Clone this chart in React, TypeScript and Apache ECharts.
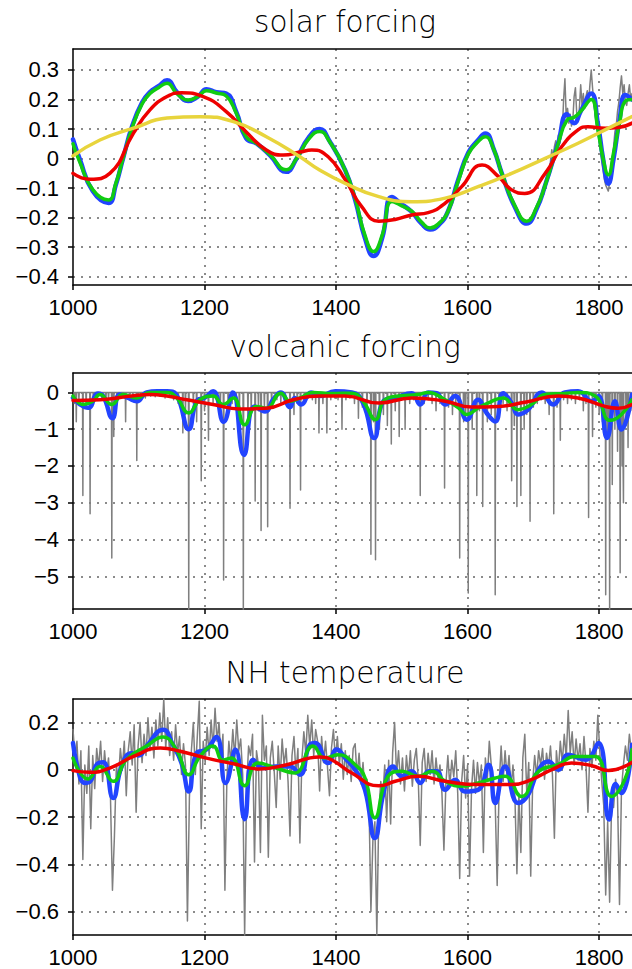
import React, { useEffect, useRef } from "react";
import * as echarts from "echarts";

const X_MIN = 1000;
const X_MAX = 1850;
const X_STEP = 200;

const panelTitles = ["solar forcing", "volcanic forcing", "NH temperature"];

// ---------------- solar forcing ----------------
const solarSmoothYears = [
  1000, 1010, 1030, 1054, 1065, 1076, 1090, 1105, 1117, 1130,
  1143, 1158, 1175, 1190, 1203, 1218, 1233, 1248, 1263, 1280,
  1300, 1324, 1340, 1358, 1375, 1390, 1414, 1429, 1444, 1457,
  1470, 1485, 1500, 1515, 1530, 1543, 1556, 1570, 1586, 1601,
  1615, 1627, 1640, 1652, 1672, 1690, 1705, 1718, 1738, 1751,
  1762, 1772, 1788, 1798, 1806, 1814, 1822, 1831, 1840, 1850,
];
const solarBlue = [
  0.065, 0.0, -0.11, -0.15, -0.09, 0.0, 0.11, 0.19, 0.225, 0.245,
  0.265, 0.225, 0.195, 0.21, 0.235, 0.225, 0.22, 0.16, 0.07, 0.05,
  0.01, -0.045, 0.0, 0.07, 0.1, 0.06, -0.04, -0.14, -0.27, -0.33,
  -0.27, -0.13, -0.155, -0.18, -0.22, -0.24, -0.225, -0.18, -0.07, 0.02,
  0.06, 0.085, 0.03, -0.05, -0.165, -0.22, -0.17, -0.09, 0.055, 0.15,
  0.12, 0.16, 0.22, 0.12, 0.0, -0.085, 0.0, 0.13, 0.215, 0.2,
];
const solarGreen = [
  0.05, -0.01, -0.105, -0.14, -0.085, 0.0, 0.105, 0.185, 0.22, 0.24,
  0.255, 0.22, 0.198, 0.21, 0.23, 0.222, 0.212, 0.155, 0.075, 0.05,
  0.012, -0.038, 0.0, 0.065, 0.092, 0.058, -0.04, -0.135, -0.26, -0.315,
  -0.26, -0.145, -0.16, -0.178, -0.215, -0.235, -0.22, -0.18, -0.075, 0.015,
  0.055, 0.074, 0.03, -0.05, -0.16, -0.212, -0.165, -0.09, 0.052, 0.13,
  0.14, 0.16, 0.2, 0.1, 0.0, -0.055, 0.02, 0.12, 0.195, 0.2,
];
const solarRedYears = [
  1000, 1026, 1056, 1092, 1117, 1143, 1165, 1198, 1233, 1263,
  1294, 1320, 1345, 1363, 1388, 1414, 1439, 1465, 1490, 1515,
  1540, 1566, 1591, 1622, 1647, 1667, 1687, 1718, 1743, 1768,
  1783, 1809, 1829, 1850,
];
const solarRed = [
  -0.05, -0.07, -0.05, 0.086, 0.165, 0.21, 0.223, 0.21, 0.159, 0.091,
  0.029, 0.012, 0.022, 0.029, 0.006, -0.072, -0.163, -0.212, -0.206, -0.191,
  -0.183, -0.151, -0.095, -0.022, -0.061, -0.106, -0.118, -0.05, 0.04, 0.097,
  0.108, 0.103, 0.105, 0.12,
];
const solarYellowYears = [
  1000, 1041, 1092, 1143, 1193, 1244, 1294, 1345, 1375, 1414,
  1465, 1515, 1566, 1616, 1667, 1718, 1768, 1819, 1850,
];
const solarYellow = [
  0.009, 0.063, 0.103, 0.137, 0.142, 0.125, 0.074, 0.006, -0.039, -0.084,
  -0.129, -0.146, -0.134, -0.095, -0.05, 0.001, 0.052, 0.108, 0.142,
];
const solarRawStart = 1716;
const solarRawStep = 2;
const solarRaw = [
  -0.12, -0.09, -0.08, -0.04, -0.05, -0.01, 0.03, 0.0, 0.04, 0.06,
  0.03, 0.08, 0.05, 0.12, 0.09, 0.2, 0.27, 0.14, 0.17, 0.12,
  0.15, 0.11, 0.13, 0.21, 0.24, 0.15, 0.13, 0.17, 0.25, 0.18,
  0.22, 0.17, 0.21, 0.23, 0.19, 0.25, 0.3, 0.24, 0.19, 0.15,
  0.12, 0.08, 0.07, 0.03, -0.01, -0.04, -0.07, -0.09, -0.1, -0.11,
  -0.08, -0.06, -0.01, 0.04, 0.09, 0.11, 0.16, 0.19, 0.24, 0.28,
  0.22, 0.25, 0.19, 0.18, 0.22, 0.25, 0.2, 0.22,
];

// ---------------- volcanic forcing ----------------
const volcanicEvents: [number, number][] = [
  [1002, -0.3], [1005, -0.8], [1009, -0.2], [1015, -2.8], [1020, -0.4], [1026, -3.3],
  [1031, -0.2], [1037, -0.15], [1044, -0.2], [1050, -0.3], [1054, -0.2], [1059, -4.5],
  [1062, -1.2], [1067, -0.3], [1072, -0.15], [1080, -0.8], [1086, -0.2], [1091, -0.15],
  [1097, -1.85], [1103, -0.1], [1110, -0.15], [1118, -0.1], [1125, -0.12], [1132, -0.1],
  [1140, -0.15], [1147, -0.12], [1153, -0.2], [1160, -0.3], [1167, -1.1], [1171, -0.6],
  [1176, -6.0], [1183, -0.3], [1188, -0.8], [1195, -2.4], [1200, -0.5], [1206, -1.3],
  [1213, -0.3], [1218, -0.2], [1224, -0.4], [1229, -5.1], [1236, -0.5], [1242, -0.3],
  [1248, -0.2], [1253, -0.6], [1259, -6.0], [1266, -0.8], [1271, -0.6], [1277, -2.95],
  [1282, -0.5], [1286, -3.75], [1291, -0.4], [1296, -3.65], [1302, -0.3], [1310, -0.2],
  [1316, -0.3], [1322, -0.2], [1330, -3.15], [1336, -0.6], [1341, -0.3], [1346, -2.65],
  [1352, -0.2], [1358, -0.15], [1364, -0.2], [1369, -0.3], [1374, -1.1], [1380, -0.3],
  [1386, -1.1], [1392, -0.2], [1398, -0.15], [1403, -0.2], [1409, -1.0], [1415, -0.2],
  [1421, -0.15], [1428, -0.3], [1434, -0.7], [1440, -0.4], [1447, -0.6], [1453, -4.4],
  [1457, -0.8], [1460, -4.55], [1466, -1.0], [1472, -0.6], [1478, -0.9], [1484, -1.4],
  [1490, -0.5], [1496, -1.2], [1505, -1.0], [1512, -0.3], [1518, -0.2], [1528, -2.8],
  [1534, -0.3], [1540, -0.2], [1546, -0.3], [1552, -0.5], [1558, -0.3], [1565, -2.6],
  [1571, -0.4], [1577, -0.6], [1582, -0.3], [1588, -4.5], [1594, -0.8], [1597, -0.6],
  [1601, -5.45], [1607, -1.0], [1614, -2.8], [1618, -0.5], [1623, -3.1], [1630, -0.8],
  [1636, -0.6], [1642, -5.5], [1648, -0.4], [1654, -0.3], [1660, -0.5], [1667, -2.4],
  [1671, -0.9], [1675, -3.1], [1681, -2.8], [1686, -1.0], [1690, -0.6], [1695, -3.5],
  [1700, -0.4], [1706, -0.3], [1712, -0.2], [1718, -0.3], [1724, -0.6], [1731, -3.3],
  [1736, -0.4], [1741, -1.3], [1746, -0.2], [1752, -0.3], [1758, -0.2], [1764, -0.3],
  [1770, -0.2], [1776, -0.5], [1780, -0.3], [1784, -3.4], [1790, -1.2], [1795, -0.4],
  [1800, -0.6], [1805, -0.8], [1810, -5.5], [1813, -1.2], [1816, -6.0], [1820, -2.5],
  [1824, -1.0], [1828, -1.6], [1832, -4.9], [1835, -2.0], [1837, -3.0], [1841, -0.9],
  [1844, -1.5], [1848, -0.5],
];
const volcanicBlue: [number, number][] = [
  [1000, -0.15], [1011, -0.33], [1023, -0.42], [1038, -0.03], [1046, -0.1], [1060, -0.7],
  [1071, -0.06], [1084, -0.15], [1097, -0.24], [1112, 0.0], [1128, 0.03], [1143, 0.03],
  [1157, -0.06], [1176, -1.0], [1188, -0.24], [1200, -0.15], [1213, 0.03], [1229, -0.8],
  [1243, 0.0], [1260, -1.7], [1276, -0.38], [1292, -0.52], [1304, -0.2], [1316, 0.0],
  [1330, -0.4], [1337, -0.15], [1347, -0.33], [1362, 0.0], [1375, -0.1], [1399, 0.03],
  [1424, 0.0], [1441, -0.29], [1458, -1.24], [1472, -0.24], [1490, -0.15], [1515, -0.02],
  [1528, -0.33], [1540, 0.0], [1553, -0.02], [1566, -0.33], [1581, -0.1], [1599, -0.74],
  [1616, -0.2], [1629, -0.56], [1642, -0.79], [1654, -0.02], [1667, -0.29], [1677, -0.6],
  [1692, -0.47], [1713, 0.0], [1730, -0.33], [1748, 0.0], [1768, 0.03], [1789, -0.24],
  [1799, -0.1], [1812, -1.24], [1824, -0.24], [1834, -1.01], [1850, -0.06],
];
const volcanicGreen: [number, number][] = [
  [1000, -0.1], [1016, -0.33], [1030, -0.24], [1041, -0.06], [1059, -0.33], [1076, -0.06],
  [1097, -0.15], [1117, 0.0], [1143, 0.0], [1158, -0.15], [1176, -0.56], [1193, -0.2],
  [1213, -0.1], [1228, -0.33], [1244, -0.15], [1261, -0.88], [1279, -0.38], [1294, -0.43],
  [1316, -0.02], [1330, -0.24], [1345, -0.15], [1365, 0.0], [1393, -0.03], [1424, -0.02],
  [1441, -0.24], [1460, -0.74], [1474, -0.2], [1495, -0.1], [1525, -0.06], [1540, 0.0],
  [1566, -0.2], [1586, -0.42], [1599, -0.6], [1616, -0.42], [1631, -0.29], [1654, -0.15],
  [1677, -0.47], [1697, -0.33], [1718, -0.06], [1748, -0.03], [1768, 0.0], [1794, -0.1],
  [1817, -0.76], [1834, -0.6], [1850, -0.2],
];
const volcanicRed: [number, number][] = [
  [1000, -0.22], [1041, -0.2], [1092, -0.09], [1117, -0.06], [1143, -0.1], [1173, -0.2],
  [1213, -0.33], [1254, -0.45], [1294, -0.43], [1335, -0.2], [1375, -0.1], [1414, -0.1],
  [1465, -0.29], [1515, -0.15], [1566, -0.24], [1606, -0.4], [1647, -0.38], [1687, -0.27],
  [1738, -0.1], [1768, -0.15], [1809, -0.38], [1829, -0.43], [1850, -0.33],
];

// ---------------- NH temperature ----------------
const nhRawStart = 1000;
const nhRawStep = 3;
const nhRaw = [
  0.17, 0.05, 0.12, -0.06, 0.08, -0.38, 0.02, -0.10, 0.10, -0.25,
  0.06, -0.08, 0.09, 0.01, 0.12, -0.05, 0.08, -0.02, 0.05, -0.12,
  -0.51, -0.28, 0.02, -0.05, 0.09, 0.01, 0.12, -0.11, 0.08, 0.16,
  0.02, 0.19, -0.18, 0.10, 0.20, 0.03, 0.15, 0.06, 0.22, 0.08,
  0.18, 0.05, 0.21, 0.10, 0.24, 0.12, 0.30, 0.09, 0.22, 0.06,
  0.16, 0.04, 0.19, 0.07, 0.14, -0.02, 0.11, 0.02, -0.64, -0.12,
  0.08, 0.20, -0.02, 0.14, 0.29, -0.25, 0.12, 0.03, 0.18, 0.06,
  0.21, 0.09, 0.26, 0.12, 0.20, 0.04, 0.15, -0.51, -0.04, 0.12,
  0.03, 0.17, 0.05, 0.21, 0.08, 0.13, -0.02, -0.70, -0.08, 0.10,
  0.06, 0.15, -0.39, 0.08, 0.02, -0.35, 0.23, 0.04, 0.10, -0.37,
  0.05, 0.12, -0.01, -0.16, 0.10, -0.04, 0.13, 0.02, 0.09, -0.05,
  -0.28, 0.06, 0.14, -0.02, 0.09, -0.31, 0.04, 0.16, 0.07, 0.23,
  0.10, 0.21, 0.06, 0.17, 0.12, -0.09, 0.14, 0.03, 0.12, 0.01,
  -0.11, 0.09, 0.17, 0.04, 0.14, 0.02, 0.11, -0.04, 0.08, -0.02,
  0.06, -0.05, 0.09, 0.11, -0.03, 0.07, -0.06, 0.03, -0.10, -0.04,
  -0.13, -0.60, -0.30, -0.22, -0.70, -0.18, -0.05, -0.12, 0.02, -0.22,
  0.04, -0.23, 0.07, 0.20, -0.02, 0.08, -0.06, 0.05, -0.09, 0.06,
  -0.03, 0.08, -0.07, 0.04, 0.09, -0.04, -0.32, 0.03, 0.09, -0.05,
  0.07, -0.02, 0.08, -0.06, 0.05, -0.04, 0.02, -0.10, -0.34, -0.06,
  0.06, -0.07, 0.04, -0.03, 0.08, -0.10, -0.46, -0.05, 0.06, -0.12,
  0.02, -0.45, -0.08, 0.04, -0.10, 0.03, -0.06, 0.02, -0.35, 0.05,
  -0.04, 0.12, 0.02, -0.09, -0.14, -0.49, -0.06, 0.10, -0.05, 0.08,
  -0.03, 0.06, -0.08, 0.02, -0.12, -0.44, -0.10, -0.35, 0.05, 0.15,
  -0.10, 0.03, -0.45, -0.05, 0.06, -0.03, 0.08, 0.02, 0.09, -0.04,
  0.07, 0.01, 0.10, -0.02, -0.29, 0.08, -0.01, 0.12, 0.03, 0.15,
  0.05, 0.25, 0.07, 0.16, 0.02, 0.13, 0.04, 0.11, 0.00, 0.14,
  0.02, -0.18, 0.09, 0.01, 0.12, 0.04, 0.23, 0.08, -0.05, -0.15,
  -0.53, -0.22, -0.56, -0.14, -0.16, -0.04, -0.12, -0.57, -0.08, 0.02,
  0.10, 0.04, 0.15, 0.08,
];
const nhBlue: [number, number][] = [
  [1000, 0.113], [1011, -0.035], [1018, -0.056], [1026, -0.05], [1036, 0.021], [1046, 0.031],
  [1061, -0.12], [1074, 0.014], [1089, 0.07], [1100, 0.06], [1112, 0.1], [1137, 0.169],
  [1152, 0.105], [1165, 0.028], [1176, -0.092], [1188, 0.07], [1203, 0.085], [1218, 0.138],
  [1232, -0.056], [1247, 0.085], [1261, -0.209], [1274, 0.042], [1289, 0.007], [1309, 0.014],
  [1330, 0.014], [1345, -0.021], [1360, 0.106], [1368, 0.113], [1388, 0.028], [1401, 0.085],
  [1414, 0.049], [1429, 0.0], [1444, -0.085], [1459, -0.289], [1472, -0.099], [1487, 0.014],
  [1500, -0.028], [1515, -0.007], [1528, -0.056], [1541, -0.007], [1553, -0.007], [1566, -0.085],
  [1581, -0.042], [1596, -0.092], [1616, -0.085], [1632, 0.021], [1642, -0.141], [1657, 0.014],
  [1677, -0.141], [1692, -0.106], [1708, 0.0], [1723, 0.035], [1738, 0.0], [1753, 0.063],
  [1779, 0.042], [1799, 0.113], [1815, -0.211], [1825, -0.06], [1834, -0.099], [1850, 0.106],
];
const nhGreen: [number, number][] = [
  [1000, 0.049], [1023, -0.039], [1041, 0.014], [1061, -0.049], [1081, 0.042], [1112, 0.1],
  [1137, 0.138], [1157, 0.085], [1176, -0.021], [1193, 0.056], [1213, 0.1], [1228, 0.04],
  [1241, 0.05], [1261, -0.068], [1281, 0.028], [1309, 0.007], [1337, -0.014], [1365, 0.1],
  [1383, 0.049], [1403, 0.063], [1429, 0.021], [1444, -0.035], [1459, -0.204], [1479, -0.028],
  [1500, -0.007], [1525, -0.028], [1546, -0.007], [1566, -0.049], [1591, -0.07], [1616, -0.056],
  [1642, -0.035], [1657, -0.028], [1682, -0.113], [1708, -0.007], [1738, 0.021], [1763, 0.056],
  [1794, 0.056], [1819, -0.113], [1839, -0.042], [1850, 0.085],
];
const nhRed: [number, number][] = [
  [1000, -0.004], [1026, -0.011], [1056, 0.007], [1092, 0.056], [1133, 0.092], [1163, 0.078],
  [1203, 0.049], [1244, 0.025], [1284, 0.003], [1325, 0.021], [1375, 0.054], [1393, 0.042],
  [1424, -0.014], [1465, -0.068], [1490, -0.049], [1525, -0.028], [1566, -0.049], [1616, -0.063],
  [1667, -0.063], [1697, -0.042], [1728, 0.0], [1758, 0.028], [1789, 0.017], [1814, -0.003],
  [1850, 0.031],
];

// y-axis ranges [min, max, step]
const yRanges: [number, number, number][] = [
  [-0.428, 0.371, 0.1],
  [-5.886, 0.527, 1],
  [-0.699, 0.299, 0.2],
];

const GRAY = "#7f7f7f";
const BLUE = "#2244ff";
const GREEN = "#11cc11";
const RED = "#ee0000";
const YELLOW = "#e8d43c";

const zip = (xs: number[], ys: number[]) => xs.map((x, i) => [x, ys[i]]);
const stepSeries = (start: number, step: number, ys: number[]) =>
  ys.map((y, i) => [start + step * i, y]);
const spikes = (events: [number, number][]) => {
  const out: number[][] = [];
  [...events].sort((a, b) => a[0] - b[0]).forEach(([yr, v]) => {
    out.push([yr - 0.5, 0], [yr, v], [yr + 0.5, 0]);
  });
  return out;
};

const GRID_LEFT = 73;
const GRID_WIDTH = 559;
const GRID_TOPS = [49, 373, 699];
const GRID_H = 236;

const fmt = (v: number) => {
  const r = Math.round(v * 1000) / 1000;
  return String(r).replace("-", "\u2212");
};

function buildOption() {
  const grid = GRID_TOPS.map((t) => ({ left: GRID_LEFT, width: GRID_WIDTH, top: t, height: GRID_H }));
  const dotted = { color: "#666", type: [2, 6] as number[], width: 1.5 };
  const labelFont = { fontFamily: "Liberation Sans", fontSize: 22, color: "#000" };
  const xAxis: any[] = [];
  [0, 1, 2].forEach((g) => {
    xAxis.push({
      type: "value", gridIndex: g, min: X_MIN, max: X_MAX, interval: X_STEP, position: "bottom",
      axisLine: { show: true, onZero: false, lineStyle: { color: "#000", width: 1.5 } },
      axisTick: { show: true, length: 5, lineStyle: { color: "#000", width: 1.5 } },
      axisLabel: { ...labelFont, margin: 11, showMinLabel: true, showMaxLabel: false, formatter: (v: number) => String(v) },
      splitLine: { show: true, showMinLine: false, showMaxLine: false, lineStyle: dotted },
    });
  });
  [0, 1, 2].forEach((g) => {
    xAxis.push({
      type: "value", gridIndex: g, min: X_MIN, max: X_MAX, position: "top",
      axisLine: { show: true, onZero: false, lineStyle: { color: "#000", width: 1.5 } },
      axisTick: { show: false }, axisLabel: { show: false }, splitLine: { show: false },
    });
  });
  const yAxis = yRanges.map(([mn, mx, st], g) => ({
    type: "value", gridIndex: g, min: mn, max: mx, minInterval: st, maxInterval: st,
    axisLine: { show: true, onZero: false, lineStyle: { color: "#000", width: 1.5 } },
    axisTick: { show: true, length: 5, lineStyle: { color: "#000", width: 1.5 } },
    axisLabel: { ...labelFont, margin: 14, showMinLabel: false, showMaxLabel: false, formatter: fmt },
    splitLine: { show: true, showMinLine: false, showMaxLine: false, lineStyle: dotted },
  }));

  const line = (g: number, data: any[], color: string, width: number, smooth: boolean | number) => ({
    type: "line", xAxisIndex: g, yAxisIndex: g, data, symbol: "none", smooth,
    lineStyle: { color, width, cap: "round", join: "round" }, silent: true, clip: true,
  });

  const series = [
    line(0, stepSeries(solarRawStart, solarRawStep, solarRaw), GRAY, 1.5, false),
    line(0, zip(solarSmoothYears, solarBlue), BLUE, 4.5, 0.5),
    line(0, zip(solarSmoothYears, solarGreen), GREEN, 3.5, 0.5),
    line(0, zip(solarRedYears, solarRed), RED, 3.5, 0.5),
    line(0, zip(solarYellowYears, solarYellow), YELLOW, 3.5, 0.5),
    line(1, spikes(volcanicEvents), GRAY, 1.5, false),
    line(1, volcanicBlue, BLUE, 4.5, 0.5),
    line(1, volcanicGreen, GREEN, 3.5, 0.5),
    line(1, volcanicRed, RED, 3.5, 0.5),
    line(2, stepSeries(nhRawStart, nhRawStep, nhRaw), GRAY, 1.5, false),
    line(2, nhBlue, BLUE, 4.5, 0.5),
    line(2, nhGreen, GREEN, 3.5, 0.5),
    line(2, nhRed, RED, 3.5, 0.5),
  ];

  const titleY = [22, 347, 673];
  const graphic = panelTitles.map((t, i) => ({
    type: "text", x: 345, y: titleY[i], silent: true,
    style: {
      text: t, fill: "#000", font: "200 29.5px 'DejaVu Sans'",
      align: "center", verticalAlign: "middle", textAlign: "center", textVerticalAlign: "middle",
    },
  }));

  return { animation: false, backgroundColor: "#fff", grid, xAxis, yAxis, series, graphic };
}

export default function App() {
  const ref = useRef<HTMLDivElement>(null);
  useEffect(() => {
    if (!ref.current) return;
    const chart = echarts.init(ref.current, null, { renderer: "svg" });
    chart.setOption(buildOption() as any);
    return () => chart.dispose();
  }, []);
  return (
    <div
      ref={ref}
      style={{ position: "absolute", left: 0, top: 0, width: 632, height: 969, background: "#fff" }}
    />
  );
}
